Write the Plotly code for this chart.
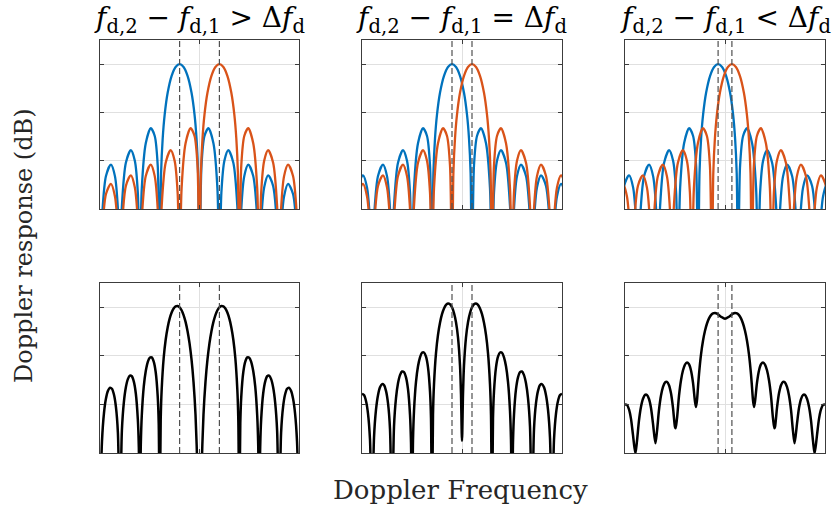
import plotly.graph_objects as go
from plotly.subplots import make_subplots

W, H = 835, 508
NULL_DB = -45.0  # nulls fall below the lower axis limit

# Doppler frequencies of the two targets (in units of the resolution cell)
fd1 = [-1.0, -0.5, -0.345]
fd2 = [1.0, 0.5, 0.345]
titles = [
    "<i>f</i><sub>d,2</sub> − <i>f</i><sub>d,1</sub> &gt; Δ<i>f</i><sub>d</sub>",
    "<i>f</i><sub>d,2</sub> − <i>f</i><sub>d,1</sub> = Δ<i>f</i><sub>d</sub>",
    "<i>f</i><sub>d,2</sub> − <i>f</i><sub>d,1</sub> &lt; Δ<i>f</i><sub>d</sub>",
]

# single-target response vs. offset from its Doppler frequency (one side, dB)
tone_u = [0, 0.2, 0.4, 0.6, 0.75, 0.85, 0.93, 1.0,
          1.1, 1.25, 1.45, 1.7, 1.9, 2.0,
          2.1, 2.25, 2.45, 2.7, 2.9, 3.0,
          3.1, 3.25, 3.45, 3.7, 3.9, 4.0,
          4.1, 4.25, 4.45, 4.7, 4.9, 5.0,
          5.1, 5.25, 5.45, 5.7, 5.9, 6.0]
tone_db = [0, -0.58, -2.42, -5.94, -10.45, -15.39, -22.54, NULL_DB,
           -20.97, -14.89, -13.28, -16.39, -25.72, NULL_DB,
           -26.58, -19.99, -17.83, -20.41, -29.39, NULL_DB,
           -29.97, -23.19, -20.81, -23.15, -31.96, NULL_DB,
           -32.40, -25.52, -23.02, -25.23, -33.95, NULL_DB,
           -34.29, -27.35, -24.78, -26.90, -35.56, NULL_DB]

# combined response of both targets, right half (symmetric about 0)
sum_x_1 = [0, 0.05, 0.1, 0.2, 0.3, 0.4, 0.5, 0.6, 0.7, 0.8, 0.9,
           1.0, 1.1, 1.2, 1.3, 1.4, 1.5, 1.6, 1.7, 1.8, 1.9, 1.95,
           2.0, 2.05, 2.1, 2.2, 2.3, 2.4, 2.5, 2.6, 2.7, 2.8, 2.9, 2.95,
           3.0, 3.05, 3.1, 3.2, 3.3, 3.4, 3.5, 3.6, 3.7, 3.8, 3.9,
           4.0, 4.1, 4.2, 4.3, 4.4, 4.5, 4.6, 4.7, 4.8, 4.9, 5.0]
sum_db_1 = [NULL_DB, -44.0, -34.04, -22.16, -15.40, -10.80, -7.44, -4.92, -3.01, -1.60, -0.61,
            0.0, 0.26, 0.18, -0.26, -1.08, -2.34, -4.14, -6.68, -10.44, -16.88, -23.19,
            NULL_DB, -23.91, -18.34, -13.38, -11.18, -10.31, -10.37, -11.27, -13.11, -16.30, -22.27, -28.37,
            NULL_DB, -28.74, -23.0, -17.75, -15.30, -14.20, -14.06, -14.79, -16.47, -19.51, -25.35,
            NULL_DB, -25.85, -20.50, -17.95, -16.77, -16.55, -17.19, -18.80, -21.78, -27.56, NULL_DB]

sum_x_2 = [0, 0.05, 0.1, 0.2, 0.3, 0.4, 0.5, 0.6, 0.7, 0.8, 0.9,
           1.0, 1.1, 1.2, 1.3, 1.4, 1.45, 1.5, 1.55, 1.6, 1.7, 1.8, 1.9,
           2.0, 2.1, 2.2, 2.3, 2.4, 2.45, 2.5, 2.55, 2.6, 2.7, 2.8, 2.9,
           3.0, 3.1, 3.2, 3.3, 3.4, 3.5, 3.6, 3.7, 3.8, 3.9,
           4.0, 4.1, 4.2, 4.3, 4.4, 4.5, 4.6, 4.7, 4.8, 4.9, 5.0]
sum_db_2 = [-27.5, -17.92, -11.96, -6.19, -3.08, -1.17, 0.0, 0.61, 0.76, 0.48, -0.24,
            -1.42, -3.18, -5.69, -9.43, -15.86, -22.16, NULL_DB, -22.89, -17.31, -12.36, -10.17, -9.31,
            -9.38, -10.29, -12.15, -15.35, -21.34, -27.45, NULL_DB, -27.83, -22.09, -16.86, -14.42, -13.34,
            -13.22, -13.96, -15.65, -18.71, -24.56, NULL_DB, -25.08, -19.74, -17.21, -16.03,
            -15.83, -16.48, -18.10, -21.09, -26.88, NULL_DB, -27.28, -21.88, -19.29, -18.07, -17.81]

sum_x_3 = [0, 0.2, 0.4, 0.5, 0.6, 0.7, 0.8, 0.9,
           1.0, 1.1, 1.2, 1.3, 1.35, 1.4, 1.45, 1.5, 1.6, 1.7, 1.8, 1.9,
           2.0, 2.1, 2.2, 2.3, 2.4, 2.47, 2.5, 2.6, 2.7, 2.8, 2.9,
           3.0, 3.1, 3.2, 3.3, 3.4, 3.48, 3.6, 3.7, 3.8, 3.9,
           4.0, 4.1, 4.2, 4.3, 4.4, 4.48, 4.6, 4.7, 4.8, 4.9, 5.0]
sum_db_3 = [-2.35, -1.94, -1.30, -1.17, -1.26, -1.62, -2.29, -3.34,
            -4.83, -6.89, -9.75, -13.81, -16.43, -19.13, -20.52, -19.41, -15.50, -13.00, -11.73, -11.38,
            -11.79, -12.96, -15.01, -18.24, -22.88, -24.9, -24.62, -20.70, -17.71, -16.04, -15.36,
            -15.48, -16.39, -18.18, -21.13, -25.50, -28.0, -23.95, -20.73, -18.89, -18.05,
            -18.04, -18.82, -20.48, -23.28, -27.52, -30.1, -26.31, -22.97, -21.02, -20.09, -20.0]

sum_x = [sum_x_1, sum_x_2, sum_x_3]
sum_db = [sum_db_1, sum_db_2, sum_db_3]

X_RANGE = [-5, 5]
Y_RANGE = [-30, 5]
Y_GRID = [-30, -20, -10, 0]

BLUE = "#0072BD"
ORANGE = "#D95319"
FONT = "DejaVu Serif"


def mirrored(xs, ys):
    """Extend a right-half curve to the full symmetric curve."""
    lx = [-x for x in reversed(xs) if x > 0]
    ly = [y for x, y in zip(reversed(xs), reversed(ys)) if x > 0]
    return lx + list(xs), ly + list(ys)


tone_off, tone_full = mirrored(tone_u, tone_db)

fig = make_subplots(rows=2, cols=3)

col_px = [(100, 299), (362, 562), (625, 825)]
row_px = [(40, 209), (283, 453)]

for c in range(3):
    # top row: the two individual responses
    for fd, color in ((fd1[c], BLUE), (fd2[c], ORANGE)):
        fig.add_trace(go.Scatter(
            x=[fd + u for u in tone_off], y=tone_full, mode="lines",
            line=dict(color=color, width=2.3, shape="spline", smoothing=0.8),
            showlegend=False, hoverinfo="skip"), row=1, col=c + 1)
    # bottom row: the combined response
    bx, by = mirrored(sum_x[c], sum_db[c])
    fig.add_trace(go.Scatter(
        x=bx, y=by, mode="lines",
        line=dict(color="black", width=2.5, shape="spline", smoothing=0.8),
        showlegend=False, hoverinfo="skip"), row=2, col=c + 1)
    for r in (1, 2):
        for fd in (fd1[c], fd2[c]):
            fig.add_vline(x=fd, line=dict(color="#505050", width=1.2, dash="6px,3px"),
                          row=r, col=c + 1)

axis_common = dict(showticklabels=False, ticks="inside", ticklen=4,
                   tickcolor="#3c3c3c", showline=True, linecolor="#3c3c3c",
                   linewidth=1, mirror="ticks", showgrid=True,
                   gridcolor="#e0e0e0", gridwidth=1, zeroline=False,
                   fixedrange=True)

for r in range(2):
    for c in range(3):
        idx = r * 3 + c + 1
        suffix = "" if idx == 1 else str(idx)
        x0, x1 = col_px[c]
        y0, y1 = row_px[r]
        fig.layout["xaxis" + suffix].update(
            domain=[x0 / W, x1 / W], range=X_RANGE, tickvals=[0], **axis_common)
        fig.layout["yaxis" + suffix].update(
            domain=[1 - y1 / H, 1 - y0 / H], range=Y_RANGE, tickvals=Y_GRID, **axis_common)

annotations = []
for c in range(3):
    x0, x1 = col_px[c]
    annotations.append(dict(
        text=titles[c], x=(x0 + x1) / 2 / W, y=1 - 19 / H, xref="paper", yref="paper",
        xanchor="center", yanchor="middle", showarrow=False,
        font=dict(family=FONT, size=28, color="black")))
annotations.append(dict(
    text="Doppler response (dB)", x=24 / W, y=1 - 246 / H, xref="paper", yref="paper",
    xanchor="center", yanchor="middle", textangle=-90, showarrow=False,
    font=dict(family=FONT, size=24, color="#262626")))
annotations.append(dict(
    text="Doppler Frequency", x=460 / W, y=1 - 490 / H, xref="paper", yref="paper",
    xanchor="center", yanchor="middle", showarrow=False,
    font=dict(family=FONT, size=26, color="#262626")))

fig.update_layout(
    width=W, height=H, margin=dict(l=0, r=0, t=0, b=0),
    paper_bgcolor="white", plot_bgcolor="white",
    annotations=annotations, showlegend=False,
)

fig.write_html("out.html", config={"displayModeBar": False})
